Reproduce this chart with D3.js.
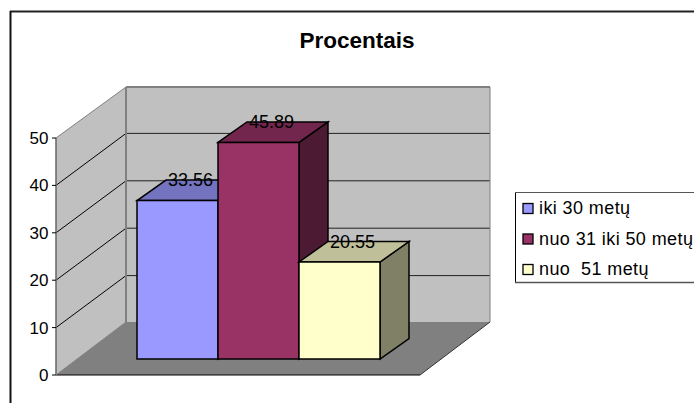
<!DOCTYPE html>
<html><head><meta charset="utf-8">
<script src="https://cdn.jsdelivr.net/npm/d3@7"></script>
<style>html,body{margin:0;padding:0;background:#fff}svg{display:block}text{font-family:"Liberation Sans",Arial,sans-serif;fill:#000}</style>
</head><body><svg id="c" width="694" height="403"></svg>
<script>
const categories = ["iki 30 metų","nuo 31 iki 50 metų","nuo  51 metų"];
const values = [33.56,45.89,20.55];
const valueLabels = ["33.56","45.89","20.55"];
const ticks = [0,10,20,30,40,50];
const frontColors = ["#9999ff","#993366","#ffffcc"];
const topColors = ["#7373bf","#73264d","#bfbf99"];
const sideColors = ["#4d4d80","#4d1a33","#808066"];
const title = "Procentais";

const svg = d3.select("#c");
const line = (a,b,s,w)=>svg.append("line").attr("x1",a[0]).attr("y1",a[1]).attr("x2",b[0]).attr("y2",b[1]).attr("stroke",s).attr("stroke-width",w||1);
const poly = (pts,f,s,w)=>svg.append("polygon").attr("points",pts.map(p=>p.join(",")).join(" ")).attr("fill",f).attr("stroke",s||"none").attr("stroke-width",w||1).attr("stroke-linejoin","miter");

// chart frame: only top and left edges are visible
line([10,11.5],[694,11.5],"#222",2);
line([10.5,11],[10.5,403],"#111",2);

const y = d3.scaleLinear().domain([0,50]).range([375,138]);
const back = {dx:70,dy:-53};
const wallRight = 490, floorRight = 420;
const xL = 56;
// walls
poly([[xL,y(50)],[xL+back.dx,y(50)+back.dy+2],[xL+back.dx,y(0)+back.dy],[xL,y(0)]],"#c0c0c0");
poly([[xL+back.dx,y(50)+back.dy+2],[wallRight,y(50)+back.dy+2],[wallRight,y(0)+back.dy],[xL+back.dx,y(0)+back.dy]],"#c0c0c0");
// floor
poly([[xL,y(0)],[xL+back.dx,y(0)+back.dy],[wallRight,y(0)+back.dy],[floorRight,y(0)]],"#808080");
// grid
ticks.slice(1,-1).forEach(t=>{
  line([xL,y(t)],[xL+back.dx,y(t)+back.dy+1],"#000");
  line([xL+back.dx,y(t)+back.dy+1],[wallRight,y(t)+back.dy+1],"#222");
});
// wall outlines
line([xL,y(50)],[xL+back.dx,y(50)+back.dy+2],"#808080",1);
line([xL+back.dx,y(50)+back.dy+2],[wallRight,y(50)+back.dy+2],"#808080",2);
line([xL+back.dx,y(50)+back.dy+2],[xL+back.dx,y(0)+back.dy],"#808080",2);
line([wallRight,y(50)+back.dy+2],[wallRight,y(0)+back.dy],"#808080",1);
line([xL,y(50)],[xL,y(0)],"#666",1.5);
line([xL,y(0)],[floorRight,y(0)],"#000",1);
line([floorRight,y(0)],[wallRight,y(0)+back.dy],"#333",1);
line([xL,y(0)],[xL+back.dx,y(0)+back.dy],"#808080",1);
// ticks
ticks.forEach(t=>{
  line([xL-4,y(t)],[xL,y(t)],"#000");
  svg.append("text").attr("x",xL-7.5).attr("y",y(t)+6).attr("text-anchor","end").attr("font-size",17).text(t);
});
// bars
const x = d3.scaleBand().domain(categories).range([137,380]);
const baseY = 359, depth={dx:29,dy:-20.5};
const h = d3.scaleLinear().domain([0,50]).range([0,236]);
categories.forEach((c,i)=>{
  const x0=x(c),x1=x0+x.bandwidth(),top=baseY-h(values[i]);
  const d=depth;
  poly([[x1,top],[x1+d.dx,top+d.dy],[x1+d.dx,baseY+d.dy],[x1,baseY]],sideColors[i],"#000",1.5);
  poly([[x0,top],[x0+d.dx,top+d.dy],[x1+d.dx,top+d.dy],[x1,top]],topColors[i],"#000",1.5);
  poly([[x0,top],[x1,top],[x1,baseY],[x0,baseY]],frontColors[i],"#000",1.5);
});
categories.forEach((c,i)=>{
  const top=baseY-h(values[i]);
  svg.append("text").attr("x",x(c)+x.bandwidth()/2+13).attr("y",top+depth.dy+6).attr("text-anchor","middle").attr("font-size",18).text(valueLabels[i]);
});
// title
svg.append("text").attr("x",357).attr("y",48).attr("text-anchor","middle").attr("font-size",22.5).attr("font-weight","bold").text(title);
// legend
line([515.5,192.5],[694,192.5],"#555",1);
line([515.5,192.5],[515.5,283],"#000",1);
line([515,282.5],[694,282.5],"#555",1.5);
const ly=d3.scalePoint().domain(categories).range([208.5,269.5]);
categories.forEach((c,i)=>{
  svg.append("rect").attr("x",523).attr("y",ly(c)-5).attr("width",10).attr("height",10).attr("fill",frontColors[i]).attr("stroke","#000").attr("stroke-width",1.3);
  svg.append("text").attr("x",539).attr("y",ly(c)+5.5).attr("font-size",18).attr("letter-spacing",0.4).style("white-space","pre").text(c);
});
</script></body></html>
